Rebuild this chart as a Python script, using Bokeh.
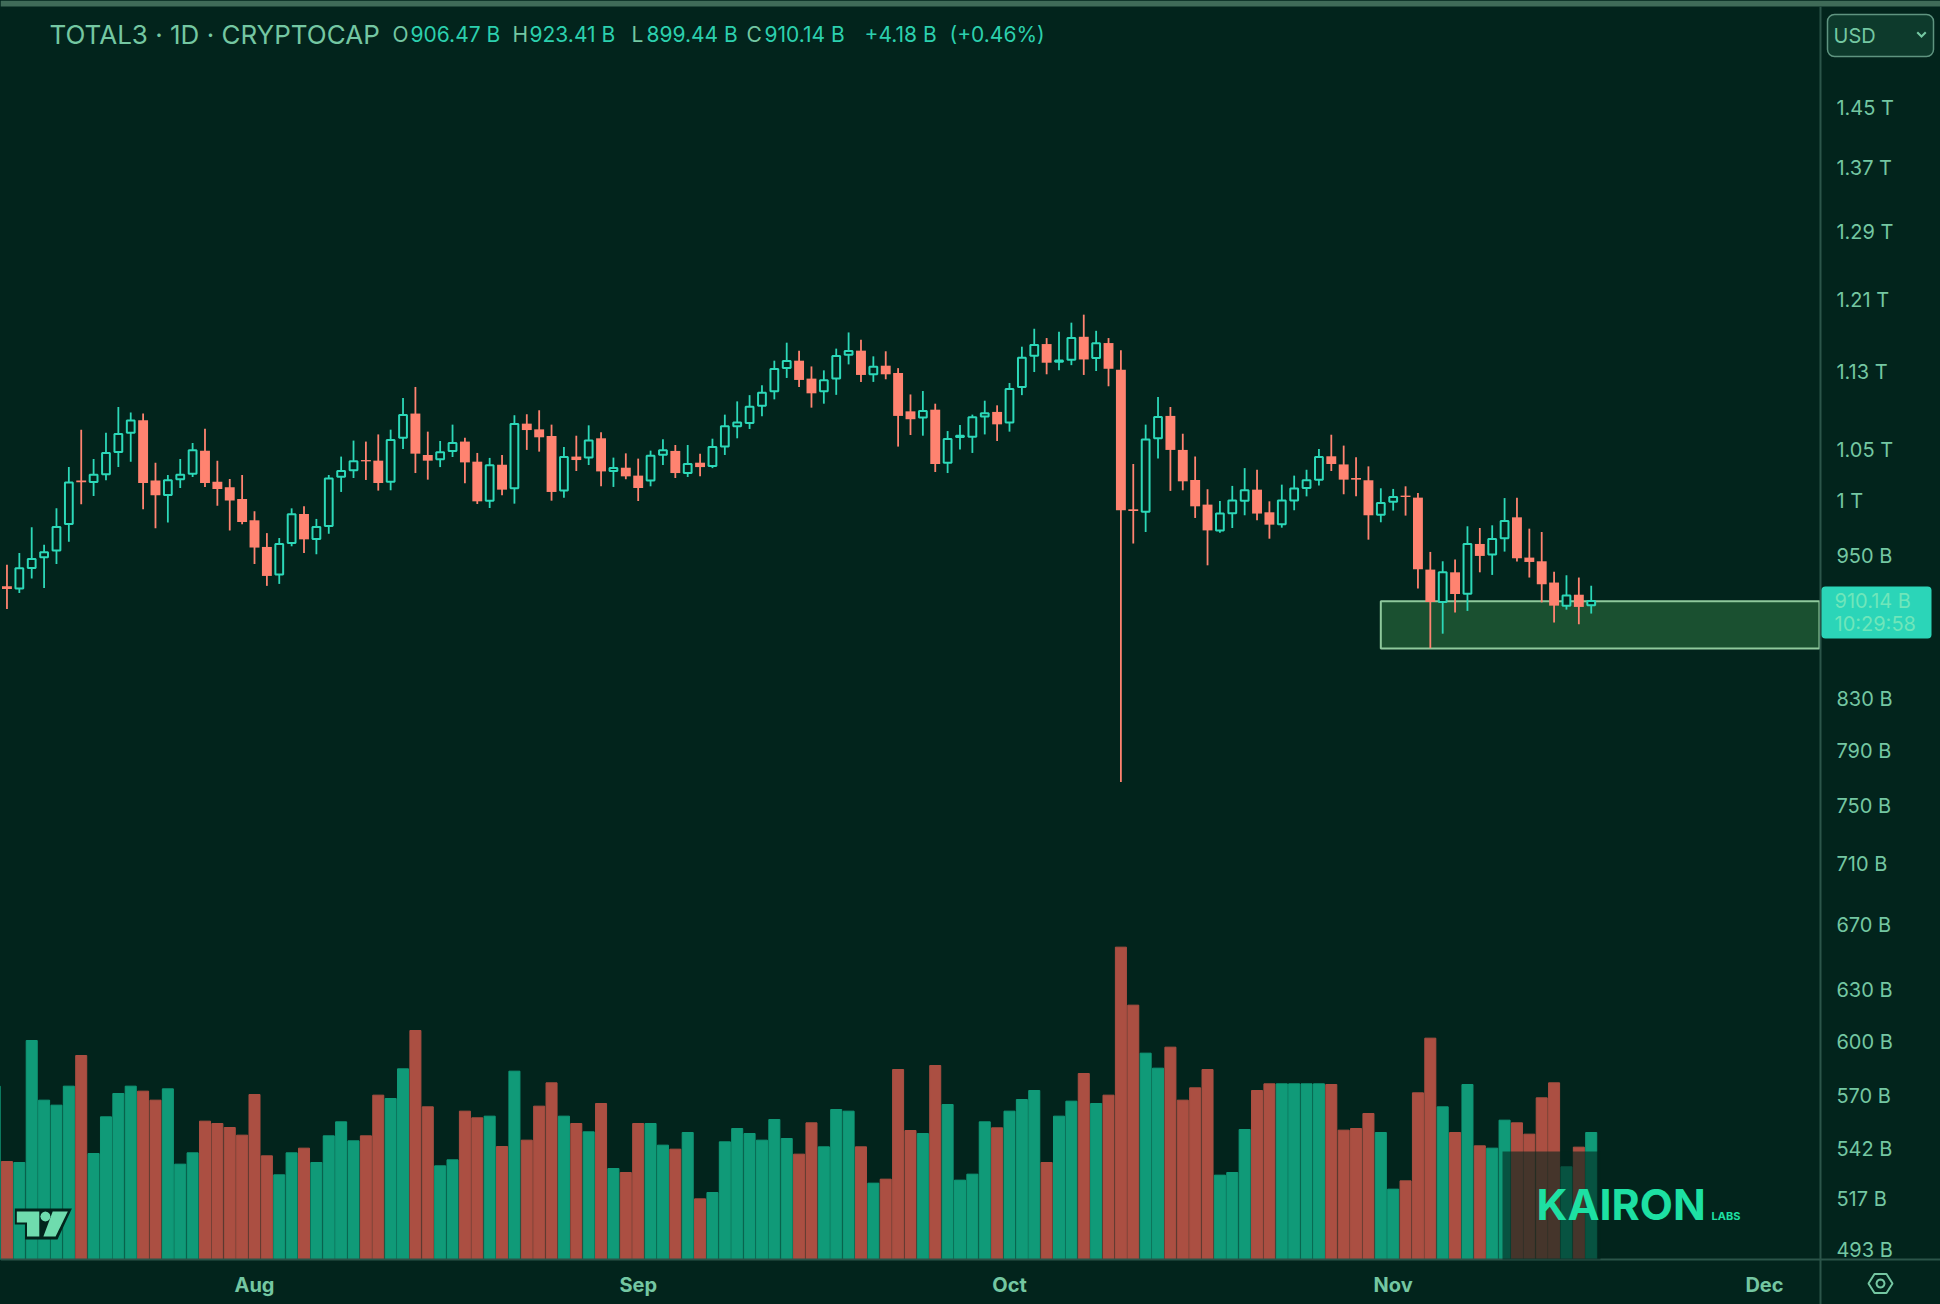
from math import cos, sin, pi
from bokeh.plotting import figure
from bokeh.models import (BoxAnnotation, ColumnDataSource, FixedTicker, Label, LinearScale,
                          PolyAnnotation, Range1d)
from bokeh.embed import file_html
from bokeh.resources import INLINE

# Daily OHLC in billions of USD; the first candle is 20 days before 1 Aug
first_day = -20
highs = [942.0,952.5,975.8,960.0,993.5,1033,1070.2,1041,1067.1,1093.4,1087.6,1086.6,1037.3,1025.3,1041,1056.8,1071.2,1039.3,1021.5,1025.3,
 990.7,970.5,966,993.5,995.4,983.6,1025.3,1043.3,1059.2,1058.2,1065.4,1070.2,1102.7,1114.3,1068.2,1058.8,1075.3,1062.1,1046.9,1042,
 1044.9,1084.9,1085.9,1090,1075.3,1052.9,1064.1,1074.6,1067.5,1042.3,1046.5,1041.3,1049.2,1060.5,1054.8,1054.8,1046.2,1061.1,1085.5,1099.2,
 1105.7,1116,1142.3,1161.9,1153.2,1136.1,1131.9,1155.4,1173.2,1165.2,1147,1152.5,1134.3,1106.4,1110,1096.8,1068.8,1075,1085.5,1099.9,
 1095.1,1118.5,1157.5,1177.3,1167,1174,1184.1,1193.1,1175,1167,1153.6,1036,1075.3,1103.7,1093.4,1066.1,1043.4,1011.6,1000.4,1014.8,
 1032,1030.4,1000.1,1016,1024.7,1030.4,1050.9,1065.1,1054.2,1042.6,1033.7,1012.5,1011.9,1014.4,1008,953.4,945,946.5,976.8,975.2,
 977.7,1003.2,1003.6,974.6,971.5,935.8,932.6,930.6,923.41]
opens = [923.0,920.9,939.0,948.6,954.6,978.9,1019.9,1018.6,1026,1047.9,1067.1,1079.7,1019.9,1006.1,1021.2,1026.6,1049.2,1018.9,1013.5,1002.3,
 982.3,957.9,933.2,961.5,988.2,965.1,977.1,1023.7,1029.8,1039.9,1039.3,1018.9,1062.1,1086.6,1044.9,1040.6,1048.9,1058.2,1038.3,1000.7,
 1035.3,1012.5,1076.3,1070.5,1063.8,1010.3,1043.3,1042.3,1061.5,1029.2,1032.4,1024.7,1019.9,1045.2,1048.9,1027.2,1037.3,1034,1053.2,1073.6,
 1077,1094.7,1109.7,1134.3,1142.3,1123.1,1109.7,1123.1,1148.8,1153.2,1127.7,1136.9,1129.1,1088.9,1082.5,1090.6,1037.3,1062.8,1063.1,1083.5,
 1088.3,1077.4,1114.3,1147.7,1160.4,1141.2,1143.3,1168.4,1145.2,1161.5,1132.6,992.6,990.4,1061.5,1084.2,1049.9,1020.5,997,973,988.9,
 1000.7,1011.2,989.8,978.6,1001,1012.8,1020.8,1043.6,1035.6,1022.4,1020.2,987.6,999.8,1005.5,1003.6,937.6,909.3,935.2,916.5,960.6,
 951,965.7,985.1,948.3,945,926.2,906.2,915.6,906.47]
closes = [920.6,938.7,947.1,953.1,976.1,1018,1018.3,1025.6,1046.9,1065.8,1079.4,1017.6,1005.8,1020.2,1025.6,1049.5,1017.6,1011.9,1001,980.8,
 957.3,932,960.6,987.9,964.8,976.1,1021.8,1029.2,1038.6,1038.6,1017.6,1059.8,1085.2,1046.2,1039.3,1047.6,1056.8,1037.6,1000.1,1034.7,
 1011.2,1076,1069.8,1062.5,1009,1042.9,1039.9,1059.2,1028.8,1032,1024,1012.8,1044.2,1049.5,1027.2,1036,1033,1052.9,1073.6,1077.4,
 1093.7,1108.3,1133.3,1141.9,1121.7,1107.6,1121.3,1147.4,1152.8,1127,1135.8,1127.7,1084.2,1080.8,1089.3,1036,1060.8,1064.1,1082.8,1086.9,
 1075.6,1112.1,1145.6,1159.4,1140.1,1142.6,1167,1143.6,1161.2,1133.6,991.7,991,1060.2,1083.2,1049.9,1019.2,995.4,973,988.6,1001,
 1010.6,988.6,978.3,1001,1012.2,1020.2,1042.9,1036,1020.8,1020.8,987,998.5,1004.2,1004.2,937.9,909.3,935.2,916.2,960.6,949.8,
 965.1,981.7,947.7,944.4,924.7,906.2,915,905.1,910.14]
lows = [903.4,917.1,929.7,921.5,942.6,962.7,997.3,1005.2,1020.2,1033,1038.3,992.6,974.9,980.2,1012.8,1023.4,1013.8,996,973,978.6,
 942.6,923.3,925,958.5,952.5,951.3,969.9,1009,1022.4,1020.5,1010.3,1010.6,1050.9,1027.2,1020.8,1033,1042.9,1017.3,997.6,993.8,
 1005.8,997.9,1049.9,1048.2,1000.7,1003.6,1029.2,1035,1014.4,1013.8,1021.2,1000.4,1014.4,1035,1022.4,1023.4,1024,1032,1044.9,1061.5,
 1070.9,1083.8,1101.3,1123.8,1114.3,1092.7,1096.8,1106,1138.3,1119.6,1119.6,1122.4,1053.2,1064.8,1064.1,1028.2,1027.2,1050.2,1046.9,1065.4,
 1058.8,1068.2,1105.7,1130.1,1127.7,1131.9,1137.5,1127,1131.2,1115,767,961,971.5,1041.3,1010,1010.6,984.5,941.4,970.8,975.2,
 987,982.3,965.4,975.5,991.7,1004.8,1015.1,1029.2,1006.8,1004.8,964.5,980.5,991.4,986.7,921,870.5,882.5,900.3,901.7,935.2,
 932.9,953.7,944.7,930.6,909,891.8,902.8,890.4,899.44]
# Relative volume (no scale is shown in the chart); first value is the bar before the first candle
volumes = [520,294,291,657,478,463,520,612,318,428,498,520,505,478,512,286,320,415,408,396,373,
 495,311,254,320,334,291,371,413,356,371,493,483,572,687,458,281,299,445,425,430,339,
 565,358,460,530,430,408,383,468,273,261,408,408,343,331,381,182,201,353,393,378,358,
 420,363,316,410,338,450,445,338,229,241,570,387,378,582,465,238,256,413,395,445,480,
 507,291,430,475,558,468,493,937,763,619,574,637,478,515,570,253,261,390,507,527,527,
 527,527,527,525,388,393,438,381,211,236,500,664,458,381,525,341,334,418,410,376,485,530,278,337,381]
first_bar_up = True

price_ticks = [493,517,542,570,600,630,670,710,750,790,830,950,1000,1050,1130,1210,1290,1370,1450]
price_labels = ["493 B","517 B","542 B","570 B","600 B","630 B","670 B","710 B","750 B","790 B","830 B",
                "950 B","1 T","1.05 T","1.13 T","1.21 T","1.29 T","1.37 T","1.45 T"]
month_ticks = [0,31,61,92,122]
month_labels = ["Aug","Sep","Oct","Nov","Dec"]
zone_start, zone_end, zone_top, zone_bottom = 91, 126.44, 910, 870.3

BG = "#02241c"
UP = "#2cd8b8"
DOWN = "#ff8370"
UP_VOL = "#109a78"
DOWN_VOL = "#ab4f42"
AXIS_TXT = "#74c7a2"
RULE = "#2b5449"
FONT = "Inter"

days = list(range(first_day, first_day + len(opens)))
is_up = [c >= o for o, c in zip(opens, closes)]
src = ColumnDataSource(dict(day=days, high=highs, low=lows, open=opens, close=closes,
                            top=[max(o, c) for o, c in zip(opens, closes)],
                            bot=[min(o, c) for o, c in zip(opens, closes)],
                            color=[UP if u else DOWN for u in is_up]))
up_src = ColumnDataSource({k: [v for v, u in zip(src.data[k], is_up) if u] for k in src.data})
dn_src = ColumnDataSource({k: [v for v, u in zip(src.data[k], is_up) if not u] for k in src.data})
vol_days = [first_day - 1] + days
vol_up = [first_bar_up] + is_up
vol_src = ColumnDataSource(dict(day=vol_days, v=volumes,
                                color=[UP_VOL if u else DOWN_VOL for u in vol_up]))

W, H = 1940, 1304
p = figure(width=W, height=H, output_backend="svg", toolbar_location=None,
           y_axis_type="log", y_axis_location="right",
           x_range=Range1d(-20.522, 136.22), y_range=Range1d(468.1, 1605.6),
           background_fill_color=BG, border_fill_color=BG, outline_line_color=None,
           min_border_left=0, min_border_top=0, min_border_right=0, min_border_bottom=0,
           margin=(0, 0, 0, 0))
p.grid.visible = False
p.extra_y_ranges = {"vol": Range1d(-135, 3777)}
p.extra_y_scales = {"vol": LinearScale()}

p.yaxis.fixed_location = zone_end
p.yaxis.ticker = FixedTicker(ticks=price_ticks)
p.yaxis.major_label_overrides = dict(zip(price_ticks, price_labels))
p.yaxis.major_label_standoff = 11
p.yaxis.major_label_text_font = FONT
p.yaxis.major_label_text_font_size = "20px"
p.yaxis.major_label_text_color = AXIS_TXT
p.yaxis.major_tick_line_color = None
p.yaxis.minor_tick_line_color = None
p.yaxis.axis_line_color = None

p.xaxis.fixed_location = 488.5
p.xaxis.ticker = FixedTicker(ticks=month_ticks)
p.xaxis.major_label_overrides = dict(zip(month_ticks, month_labels))
p.xaxis.major_label_standoff = 8
p.xaxis.major_label_text_font = FONT
p.xaxis.major_label_text_font_size = "20px"
p.xaxis.major_label_text_font_style = "bold"
p.xaxis.major_label_text_color = AXIS_TXT
p.xaxis.major_tick_line_color = None
p.xaxis.minor_tick_line_color = None
p.xaxis.axis_line_color = None

p.quad(left=[zone_start], right=[zone_end], top=[zone_top], bottom=[zone_bottom],
       fill_color="#1a5030", line_color="#8fc99c", line_width=2)
p.vbar(x="day", top="v", bottom=0, width=0.89, color="color", source=vol_src, y_range_name="vol")
p.segment(x0="day", x1="day", y0="low", y1="high", color="color", line_width=1.8, source=src)
p.vbar(x="day", top="top", bottom="bot", width=0.8, fill_color=DOWN, line_color=None, source=dn_src)
p.vbar(x="day", top="top", bottom="bot", width=0.63, fill_color=BG, line_color=UP, line_width=2, source=up_src)


def box(l, r, t, b, fill, alpha=1.0, line=None, lw=1, radius=0):
    p.add_layout(BoxAnnotation(left=l, right=r, top=t, bottom=b, left_units="canvas", right_units="canvas",
                               top_units="canvas", bottom_units="canvas", fill_color=fill, fill_alpha=alpha,
                               line_color=line, line_alpha=1, line_width=lw, border_radius=radius))


def poly(xs, ys, fill=None, alpha=1.0, line=None, lw=1):
    p.add_layout(PolyAnnotation(xs=xs, ys=ys, xs_units="canvas", ys_units="canvas", fill_color=fill,
                                fill_alpha=alpha if fill else 0, line_color=line, line_alpha=1, line_width=lw))


def txt(x, y, s, size, color, style="normal", align="left"):
    p.add_layout(Label(x=x, y=y, x_units="canvas", y_units="canvas", text=s, text_font=FONT,
                       text_font_size=f"{size}px", text_color=color, text_font_style=style,
                       text_align=align, text_baseline="middle"))


# chrome: top strip, scale rules
box(0, W, 0, 6, "#3f6b58")
box(1819, 1821, 6, H, RULE)
box(0, W, 1258, 1260, RULE)

# watermark shade over the last volume bars
box(1502, 1600, 1151, 1259, BG, alpha=0.6)
txt(1536, 1203, "KAIRON", 43, "#1de0a3", style="bold")
txt(1711, 1215, "LABS", 11, "#1de0a3", style="bold")

# TradingView mark
poly([14.3, 71.4, 57, 24.5, 24.5, 14.3], [1208, 1208, 1239, 1239, 1224, 1224], fill=BG)
poly([16.3, 38.8, 38.8, 26.5, 26.5, 16.3], [1211, 1211, 1236, 1236, 1222, 1222], fill="#6fdcae")
poly([52.2, 67.3, 55.1, 42.9], [1211, 1211, 1236, 1236], fill="#6fdcae")
poly([44.9 + 5 * cos(i * pi / 6) for i in range(12)], [1216 + 5 * sin(i * pi / 6) for i in range(12)], fill="#6fdcae")

# header
txt(49, 34, "TOTAL3 · 1D · CRYPTOCAP", 26, "#74c7a2")
for x, gap, letter, val in [(392, 18, "O", "906.47 B"), (512, 17, "H", "923.41 B"), (631, 15, "L", "899.44 B"), (746, 18, "C", "910.14 B")]:
    txt(x, 34, letter, 21, "#74c7a2")
    txt(x + gap, 34, val, 21, "#2cd0ae")
txt(864, 34, "+4.18 B", 21, "#2cd0ae")
txt(949, 34, "(+0.46%)", 21, "#2cd0ae")

# currency selector
box(1827, 1933, 14, 56, "#0d3a2c", line="#5f9480", lw=1.5, radius=7)
txt(1833, 35, "USD", 20, "#74c7a2")
poly([1916, 1917.5, 1921, 1924.5, 1926, 1921], [32.5, 31, 34.5, 31, 32.5, 37.5], fill="#74c7a2")

# last price tag
box(1821, 1931, 586, 638, "#2bd5b8", radius=4)
txt(1834, 600, "910.14 B", 20, "#6fe6ba")
txt(1834, 623, "10:29:58", 20, "#6fe6ba")

# settings icon
poly([1880 + 12 * cos(i * pi / 3) for i in range(6)], [1283 + 11 * sin(i * pi / 3) for i in range(6)],
     line="#74c7a2", lw=2)
poly([1880 + 4 * cos(i * pi / 6) for i in range(12)], [1283 + 4 * sin(i * pi / 6) for i in range(12)],
     line="#74c7a2", lw=2)

open("out.html", "w").write(file_html(p, INLINE).replace("<body>", f'<body style="background:{BG}">'))
